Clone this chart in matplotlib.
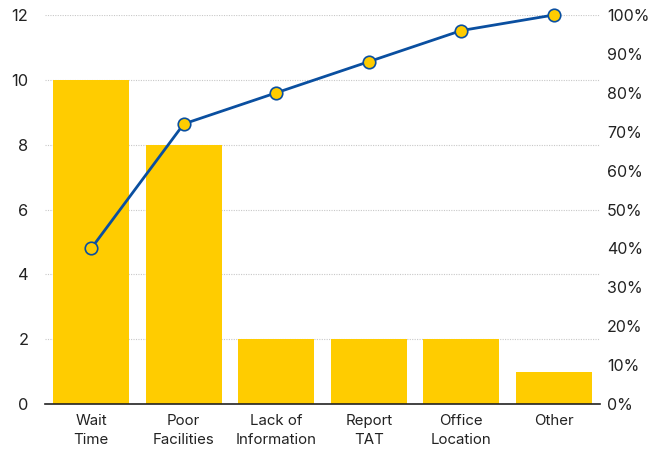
import matplotlib
matplotlib.use("Agg")
import matplotlib.pyplot as plt
import numpy as np

categories = ["Wait\nTime", "Poor\nFacilities", "Lack of\nInformation", "Report\nTAT", "Office\nLocation", "Other"]
counts = [10, 8, 2, 2, 2, 1]
left_ticks = [0, 2, 4, 6, 8, 10, 12]
right_ticks = [0, 10, 20, 30, 40, 50, 60, 70, 80, 90, 100]

cum_pct = np.cumsum(counts) / np.sum(counts) * 100

plt.rcParams['font.family'] = ['Inter', 'DejaVu Sans']

fig = plt.figure(figsize=(6.5, 4.5), dpi=100)
ax = fig.add_axes([45/650, 46/450, 555/650, 389/450])
x = np.arange(len(categories))
ax.bar(x, counts, width=0.82, color="#FFCC00", zorder=2)
ax.set_xlim(-0.5, len(categories) - 0.5)
ax.set_ylim(0, 12)
ax.set_yticks(left_ticks)
ax.set_xticks(x)
ax.set_xticklabels(categories, fontsize=10.8, color="#222222", linespacing=1.5)
ax.tick_params(axis='y', length=0, labelsize=11.8, colors="#222222", pad=12)
ax.tick_params(axis='x', length=0, colors="#222222", pad=7)
ax.grid(axis='y', linestyle=(0, (1, 1.2)), color="#c8c8c8", linewidth=0.8, zorder=0)
for s in ['top', 'right', 'left']:
    ax.spines[s].set_visible(False)
ax.spines['bottom'].set_color("#222222")
ax.spines['bottom'].set_linewidth(1.2)
ax.spines['bottom'].set_zorder(3)

ax2 = ax.twinx()
ax2.set_ylim(0, 100)
ax2.set_yticks(right_ticks)
ax2.set_yticklabels([f"{t}%" for t in right_ticks])
ax2.tick_params(axis='y', length=0, labelsize=11.5, colors="#222222", pad=5)
for s in ['top', 'right', 'left', 'bottom']:
    ax2.spines[s].set_visible(False)
ax2.plot(x, cum_pct, color="#0A4FA0", linewidth=2, marker='o', markersize=9,
         markerfacecolor="#FFCC00", markeredgecolor="#0A4FA0", markeredgewidth=1.2,
         zorder=4, clip_on=False)

fig.savefig("out.png", dpi=100)
